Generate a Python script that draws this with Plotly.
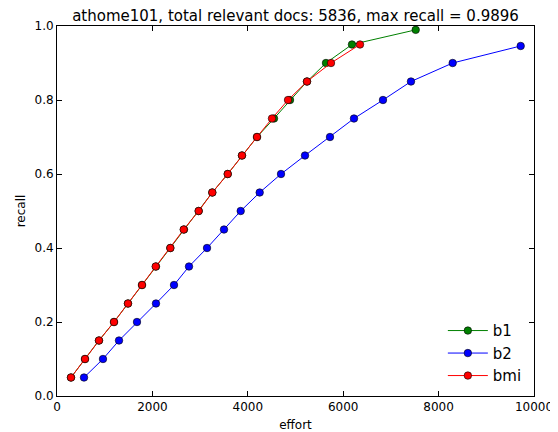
import plotly.graph_objects as go

recall_b1 = [0.05, 0.10, 0.15, 0.20, 0.25, 0.30, 0.35, 0.40, 0.45, 0.50, 0.55, 0.60, 0.65, 0.70, 0.75, 0.80, 0.85, 0.90, 0.95, 0.9896]
effort_b1 = [293, 587, 880, 1195, 1488, 1782, 2075, 2376, 2662, 2970, 3256, 3579, 3878, 4193, 4549, 4885, 5241, 5639, 6184, 7520]

recall_b2 = [0.05, 0.10, 0.15, 0.20, 0.25, 0.30, 0.35, 0.40, 0.45, 0.50, 0.55, 0.60, 0.65, 0.70, 0.75, 0.80, 0.85, 0.90, 0.946]
effort_b2 = [566, 964, 1300, 1677, 2075, 2453, 2767, 3145, 3501, 3851, 4249, 4696, 5199, 5723, 6226, 6834, 7421, 8295, 9721]

recall_bmi = [0.05, 0.10, 0.15, 0.20, 0.25, 0.30, 0.35, 0.40, 0.45, 0.50, 0.55, 0.60, 0.65, 0.70, 0.75, 0.80, 0.85, 0.90, 0.95]
effort_bmi = [293, 587, 880, 1195, 1488, 1782, 2069, 2376, 2656, 2970, 3256, 3579, 3878, 4193, 4507, 4843, 5241, 5744, 6352]

series = [
    ("b1", effort_b1, recall_b1, "#008000"),
    ("b2", effort_b2, recall_b2, "#0000ff"),
    ("bmi", effort_bmi, recall_bmi, "#ff0000"),
]

fig = go.Figure()
for name, xs, ys, col in series:
    fig.add_trace(go.Scatter(
        x=xs, y=ys, name=name, mode="lines+markers",
        line=dict(color=col, width=1),
        marker=dict(color=col, size=7.5, line=dict(color="black", width=0.6)),
    ))

font = "DejaVu Sans, sans-serif"
# the page body adds an 8px margin; size the figure to fill the rest of the window
fig.update_layout(
    width=550, height=424,
    margin=dict(l=49, r=24, t=18, b=36),
    paper_bgcolor="white", plot_bgcolor="white",
    font=dict(family=font, size=12, color="black"),
    title=dict(text="athome101, total relevant docs: 5836, max recall = 0.9896",
               x=0.5, xref="paper", xanchor="center", y=1, yref="paper",
               yanchor="bottom", pad=dict(b=5), font=dict(size=15),
               automargin=False),
    showlegend=True,
    legend=dict(x=0.985, y=0.01, xanchor="right", yanchor="bottom",
                bgcolor="rgba(0,0,0,0)", font=dict(size=15), itemwidth=40,
                tracegroupgap=2),
    xaxis=dict(range=[0, 10000], tickvals=[0, 2000, 4000, 6000, 8000, 10000],
               ticktext=["0", "2000", "4000", "6000", "8000", "10000"],
               automargin=False,
               showgrid=False, zeroline=False, showline=True, linecolor="black",
               linewidth=1, mirror="ticks", ticks="inside", ticklen=5, tickcolor="black",
               title=dict(text="effort", font=dict(size=12), standoff=7)),
    yaxis=dict(range=[0, 1], tickvals=[0, 0.2, 0.4, 0.6, 0.8, 1.0],
               ticktext=["0.0", "0.2", "0.4", "0.6", "0.8", "1.0"],
               automargin=False,
               showgrid=False, zeroline=False, showline=True, linecolor="black",
               linewidth=1, mirror="ticks", ticks="inside", ticklen=5, tickcolor="black",
               title=dict(text="recall", font=dict(size=12), standoff=6)),
)

fig.write_html("out.html")
